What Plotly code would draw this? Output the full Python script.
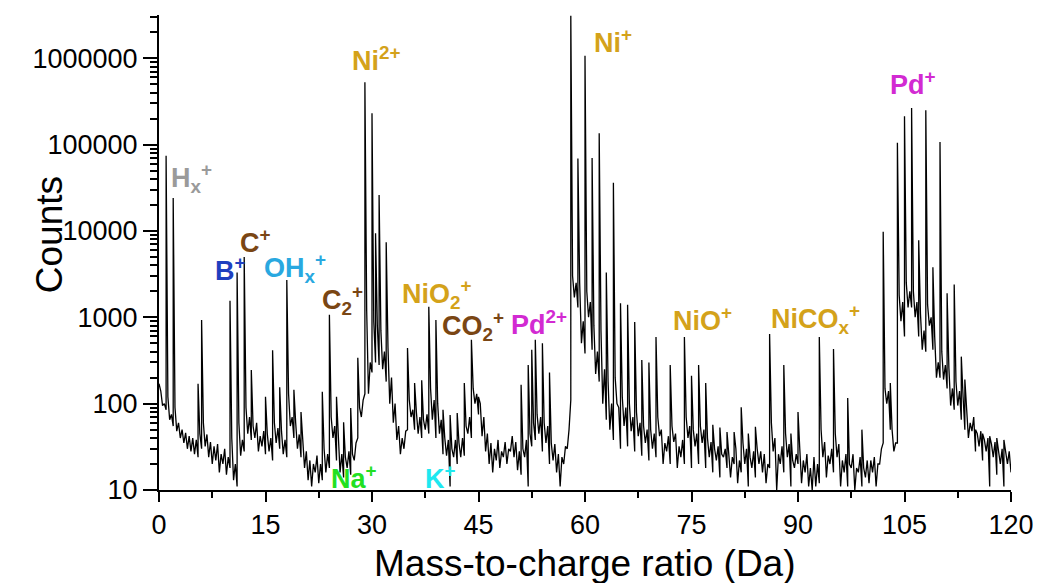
import numpy as np
import plotly.graph_objects as go

# lower edge of the noise band, read every 0.5 Da (0, 0.5, ... 120)
bg_low = [
    170, 95, 85, 65, 55, 48, 40, 35, 30, 28,             # 0 - 4.5
    26, 24, 30, 32, 24, 20, 22, 16, 20, 15,              # 5 - 9.5
    18, 13, 11, 25, 28, 45, 38, 40, 28, 32,              # 10 - 14.5
    26, 28, 22, 35, 30, 26, 24, 55, 40, 30,              # 15 - 19.5
    24, 18, 13, 11, 16, 12, 13, 16, 18, 40,              # 20 - 24.5
    22, 16, 14, 18, 15, 22, 40, 70, 130, 130,            # 25 - 29.5
    230, 300, 280, 250, 180, 100, 60, 38, 26, 30,        # 30 - 34.5
    50, 70, 50, 45, 40, 50, 45, 65, 40, 45,              # 35 - 39.5
    26, 25, 11, 24, 20, 24, 25, 45, 40, 100,             # 40 - 44.5
    75, 42, 28, 20, 16, 22, 18, 24, 20, 28,              # 45 - 49.5
    24, 17, 15, 24, 11, 32, 38, 45, 28, 35,              # 50 - 54.5
    20, 22, 16, 11, 20, 30, 110, 1700, 1300, 500,        # 55 - 59.5
    380, 1000, 420, 220, 180, 100, 65, 50, 38, 100,      # 60 - 64.5
    30, 55, 32, 48, 28, 42, 25, 35, 22, 30,              # 65 - 69.5
    24, 42, 20, 28, 20, 36, 18, 24, 20, 40,              # 70 - 74.5
    18, 32, 20, 35, 18, 24, 16, 22, 14, 24,              # 75 - 79.5
    18, 14, 20, 12, 16, 20, 11, 18, 14, 20,              # 80 - 84.5
    16, 12, 18, 28, 10, 20, 16, 24, 11, 18,              # 85 - 89.5
    20, 12, 16, 11, 10, 11, 12, 24, 14, 20,              # 90 - 94.5
    16, 24, 11, 16, 11, 18, 10, 16, 11, 14,              # 95 - 99.5
    12, 16, 11, 20, 35, 100, 50, 28, 35, 900,            # 100 - 104.5
    600, 1300, 1300, 1000, 600, 420, 400, 800, 420, 200, # 105 - 109.5
    200, 190, 150, 95, 85, 95, 65, 50, 40, 48,           # 110 - 114.5
    28, 32, 22, 28, 11, 24, 15, 20, 11, 20,              # 115 - 119.5
    16,                                                  # 120
]
# upper edge of the noise band / peak tails, read at 0.25, 0.75, ... 119.75 Da
bg_high = [
    140, 100, 120, 75, 90, 60, 50, 46, 42, 40,           # 0.25 - 4.75
    38, 45, 60, 44, 36, 32, 34, 26, 30, 24,              # 5.25 - 9.75
    40, 20, 60, 38, 90, 70, 55, 60, 42, 48,              # 10.25 - 14.75
    45, 40, 60, 52, 48, 38, 130, 70, 60, 44,             # 15.25 - 19.75
    40, 28, 22, 20, 25, 20, 30, 26, 70, 55,              # 20.25 - 24.75
    35, 26, 24, 28, 26, 35, 90, 110, 1200, 300,          # 25.25 - 29.75
    900, 800, 700, 400, 450, 200, 100, 55, 40, 48,       # 30.25 - 34.75
    110, 85, 80, 70, 65, 75, 150, 110, 100, 65,          # 35.25 - 39.75
    40, 38, 30, 38, 35, 40, 55, 70, 150, 130,            # 40.25 - 44.75
    100, 70, 45, 35, 30, 38, 28, 36, 30, 42,             # 45.25 - 49.75
    36, 28, 30, 38, 45, 60, 75, 70, 60, 55,              # 50.25 - 54.75
    35, 34, 26, 24, 32, 50, 3000, 2500, 2500, 900,       # 55.25 - 59.75
    2000, 1500, 800, 400, 700, 250, 180, 100, 200, 90,   # 60.25 - 64.75
    120, 90, 100, 70, 80, 60, 55, 50, 50, 45,            # 65.25 - 69.75
    70, 50, 35, 42, 55, 45, 32, 38, 70, 55,              # 70.25 - 74.75
    50, 45, 55, 50, 40, 36, 30, 32, 26, 30,              # 75.25 - 79.75
    26, 24, 30, 22, 35, 30, 24, 28, 30, 28,              # 80.25 - 84.75
    26, 20, 60, 40, 26, 32, 45, 34, 22, 26,              # 85.25 - 89.75
    30, 22, 26, 18, 24, 20, 50, 36, 25, 30,              # 90.25 - 94.75
    45, 34, 22, 26, 20, 26, 18, 24, 18, 22,              # 95.25 - 99.75
    22, 24, 20, 30, 150, 140, 50, 35, 1800, 1500,        # 100.25 - 104.75
    2500, 2000, 2000, 1500, 1100, 700, 1400, 1000, 600, 300,  # 105.25 - 109.75
    400, 280, 260, 150, 180, 140, 120, 80, 60, 70,       # 110.25 - 114.75
    45, 48, 38, 40, 34, 36, 28, 30, 26, 28,              # 115.25 - 119.75
]

# peak tops
peak_mz = [1, 2, 5.5, 6, 10, 11, 12, 13, 15, 16, 17, 18, 19, 20, 23, 24, 25, 26, 27, 28,
           29, 30, 30.5, 31, 32, 35, 36, 37, 38, 39, 40, 41, 42, 43, 44, 45,
           51, 52, 52.5, 53, 54, 55,
           58, 59, 60, 61, 62, 63, 64, 65, 66, 67, 68, 69, 70, 72,
           74, 75, 76, 77, 78, 79, 80, 81, 82, 83, 84, 86, 88, 89, 90, 93, 95, 97, 99,
           102, 103, 104, 105, 106, 107, 108, 109, 110, 111, 112, 113, 113.5,
           115, 116, 117, 118, 119]
peak_counts = [74000, 24000, 170, 930, 1550, 3300, 5000, 245, 120, 415, 155, 2700, 145, 80, 137, 1070, 120, 61, 89, 340,
               525000, 230000, 9400, 26000, 7400, 440, 173, 186, 1320, 930, 85, 74, 78, 173, 550, 120,
               165, 280, 420, 550, 500, 230,
               3100000, 69000, 1070000, 70000, 135000, 3300, 36000, 1450, 1400, 880, 320, 300, 590, 280,
               590, 210, 280, 173, 57, 53, 47, 47, 91, 45, 54, 640, 280, 45, 80, 590, 430, 116, 50,
               9800, 173, 105000, 213000, 265000, 7800, 250000, 3800, 107000, 1900, 2400, 350, 190,
               50, 45, 42, 40, 38]

# ion labels
label_text = ["H<sub>x</sub><sup>+</sup>", "B<sup>+</sup>", "C<sup>+</sup>", "OH<sub>x</sub><sup>+</sup>",
              "C<sub>2</sub><sup>+</sup>", "Ni<sup>2+</sup>", "NiO<sub>2</sub><sup>+</sup>", "CO<sub>2</sub><sup>+</sup>",
              "Pd<sup>2+</sup>", "Ni<sup>+</sup>", "NiO<sup>+</sup>", "NiCO<sub>x</sub><sup>+</sup>",
              "Pd<sup>+</sup>", "Na<sup>+</sup>", "K<sup>+</sup>"]
label_mz = [4.6, 10.0, 13.6, 19.2, 25.8, 30.7, 39.2, 44.2, 53.5, 63.9, 76.5, 92.4, 106.2, 27.5, 39.7]
label_counts = [41000, 3600, 7600, 3700, 1600, 980000, 1850, 800, 870, 1580000, 950, 950, 515000, 14, 14]
label_color = ["#9a9a9a", "#1f3fbf", "#7a4614", "#29a8e0", "#7a4614", "#d4a21a", "#d4a21a", "#7a4614",
               "#d22ad2", "#d4a21a", "#d4a21a", "#d4a21a", "#d22ad2", "#22e022", "#1ee8f0"]

x_ticks = [0, 15, 30, 45, 60, 75, 90, 105, 120]
y_tick_vals = [10, 100, 1000, 10000, 100000, 1000000]
y_tick_text = ["10", "100", "1000", "10000", "100000", "1000000"]

# one spectrum line: noise band zig-zag plus peak tops (peak drawn after band point at same m/z)
pts = [(i * 0.5, c, 0) for i, c in enumerate(bg_low)]
pts += [(i * 0.5 + 0.25, c, 0) for i, c in enumerate(bg_high)]
pts += [(m, c, 1) for m, c in zip(peak_mz, peak_counts)]
pts.sort(key=lambda p: (p[0], p[2]))
x = [p[0] for p in pts]
y = [p[1] for p in pts]

fig = go.Figure()
fig.add_trace(go.Scatter(x=x, y=y, mode="lines", line=dict(color="black", width=1.3), hoverinfo="skip"))

font = "Liberation Sans, Arial, sans-serif"
for t, m, c, col in zip(label_text, label_mz, label_counts, label_color):
    fig.add_annotation(x=m, y=np.log10(c), text="<b>" + t + "</b>", showarrow=False,
                       font=dict(family=font, size=27, color=col), xanchor="center", yanchor="middle")

fig.add_annotation(x=-0.154, y=0.537, xref="paper", yref="paper", text="Counts", textangle=-90,
                   showarrow=False, font=dict(family=font, size=37, color="black"))
fig.add_annotation(x=0.5, y=-0.154, xref="paper", yref="paper", text="Mass-to-charge ratio (Da)",
                   showarrow=False, yanchor="middle", font=dict(family=font, size=37, color="black"))

# the page body adds an 8 px offset, so margins are trimmed on the left/top
fig.update_layout(
    width=1041, height=583,
    margin=dict(l=151, r=38, t=7, b=101),
    plot_bgcolor="white", paper_bgcolor="white",
    showlegend=False,
    font=dict(family=font, color="black"),
)
fig.update_xaxes(
    range=[0, 120], tickvals=x_ticks, ticks="outside", ticklen=10, tickwidth=2, tickcolor="black",
    showline=True, linewidth=2, linecolor="black", showgrid=False, zeroline=False, automargin=False,
    tickfont=dict(size=27),
    minor=dict(dtick=7.5, tick0=0, ticks="outside", ticklen=6, tickwidth=2, tickcolor="black"),
)
fig.update_yaxes(
    type="log", range=[1, 6.5], tickvals=y_tick_vals, ticktext=y_tick_text,
    ticks="outside", ticklen=14, tickwidth=2, tickcolor="black",
    showline=True, linewidth=2, linecolor="black", showgrid=False, zeroline=False, automargin=False,
    tickfont=dict(size=27),
    minor=dict(dtick="D1", ticks="outside", ticklen=7, tickwidth=1.5, tickcolor="black", showgrid=False),
)

fig.write_html("out.html")
